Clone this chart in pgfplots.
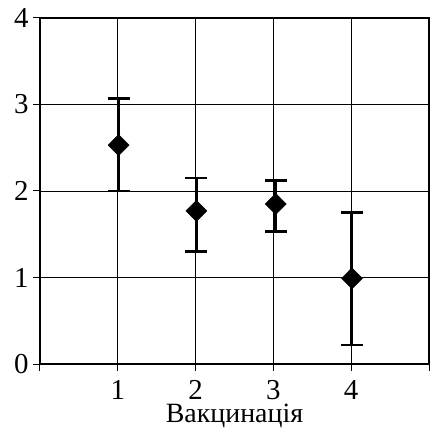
\documentclass[border=0pt]{standalone}
\usepackage{pgfplots}
\pgfplotsset{compat=1.18}
\usepackage{fontspec}
\setmainfont{Liberation Serif}
\begin{document}
\begin{tikzpicture}
\begin{axis}[
  scale only axis,
  width=389bp, height=346bp,
  xmin=0, xmax=5, ymin=0, ymax=4,
  xtick={0,1,2,3,4,5},
  xticklabels={,1,2,3,4,},
  ytick={0,1,2,3,4},
  tick pos=left,
  grid=major,
  grid style={black, line width=0.9bp},
  axis line style={line width=2.6bp},
  tick align=outside,
  major tick length=7bp,
  tick style={black, line width=1bp},
  /pgf/number format/assume math mode=true,
  ticklabel style={font=\fontsize{29}{33}\selectfont},
  xticklabel style={inner sep=1bp, yshift=-8bp},
  xlabel={Вакцинація},
  xlabel style={font=\fontsize{28}{32}\selectfont, inner sep=0bp, yshift=-3bp},
  yticklabel style={xshift=-1bp},
]
\addplot+[only marks, black, mark=diamond*, mark size=10.5bp,
  mark options={xscale=1.33, fill=black, draw=black, line width=0.5bp},
  error bars/.cd, y dir=both, y explicit,
  error bar style={line width=3bp, black},
  error mark options={rotate=90, line width=2.5bp, mark size=11bp, black}]
coordinates {
  (1.01,2.53) += (0,0.54) -= (0,0.53)
  (2.01,1.77) += (0,0.38) -= (0,0.47)
  (3.03,1.85) += (0,0.27) -= (0,0.32)
  (4.01,0.99) += (0,0.76) -= (0,0.77)
};
\end{axis}
\pgfresetboundingbox
\path[use as bounding box] ([xshift=-40bp,yshift=-65bp]current axis.south west) rectangle ([xshift=392bp,yshift=364bp]current axis.south west);
\end{tikzpicture}
\end{document}
